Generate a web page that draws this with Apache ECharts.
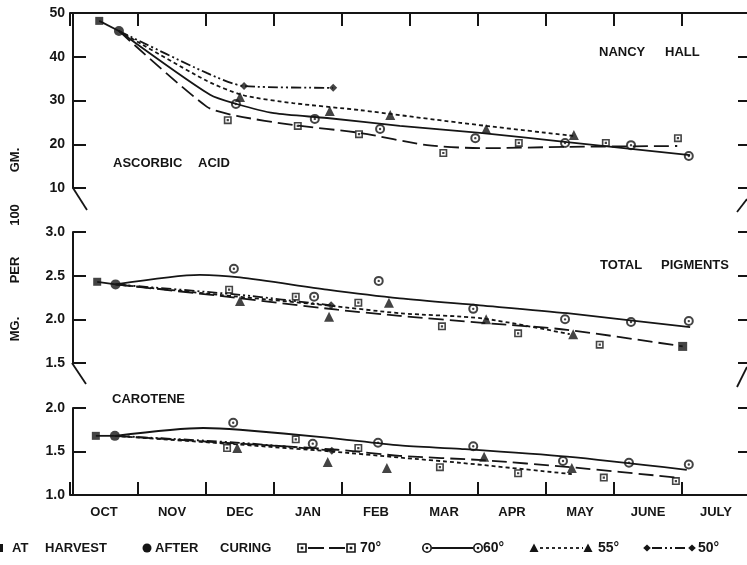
<!DOCTYPE html>
<html><head><meta charset="utf-8">
<script src="https://cdn.jsdelivr.net/npm/echarts@6/dist/echarts.min.js"></script>
<style>html,body{margin:0;padding:0;background:#fff}#c{width:747px;height:565px}</style>
</head><body><div id="c"></div>
<script>
// ---------- categories / ticks ----------
const months = ['OCT','NOV','DEC','JAN','FEB','MAR','APR','MAY','JUNE','JULY'];
const ascRange = [10, 50, 10];     // min, max, step
const pigRange = [1.5, 3.0, 0.5];
const carRange = [1.0, 2.0, 0.5];
// x = months after Oct 1

// ---------- Ascorbic acid ----------
const ascHarvest = [[0.43, 48.2]];
const ascCured   = [[0.72, 45.9]];
const asc70Pts   = [[2.32,25.5],[3.35,24.2],[4.25,22.3],[5.49,18.0],[6.60,20.3],[7.88,20.3],[8.94,21.4]];
const asc70Curve = [[0.72,45.9],[2.01,28.6],[2.45,26.5],[3.28,24.4],[4.26,22.6],[5.25,19.8],[6.07,19.1],[7.31,19.4],[8.93,19.6]];
const asc60Pts   = [[2.44,29.2],[3.60,25.8],[4.56,23.5],[5.96,21.4],[7.28,20.3],[8.25,19.8],[9.10,17.3]];
const asc60Curve = [[0.72,45.9],[2.06,31.3],[2.45,29.2],[3.00,27.1],[3.78,26.0],[4.85,24.2],[6.03,22.6],[7.31,20.5],[9.12,17.5]];
const asc55Pts   = [[2.50,30.8],[3.82,27.6],[4.71,26.7],[6.12,23.5],[7.41,22.1]];
const asc55Curve = [[0.72,45.9],[2.01,34.5],[2.55,31.2],[3.28,29.4],[4.26,27.8],[5.74,24.9],[7.40,21.9]];
const asc50Pts   = [[2.56,33.3],[3.87,32.9]];
const asc50Curve = [[0.72,45.9],[2.01,36.3],[2.56,33.3],[3.87,32.9]];

// ---------- Total pigments ----------
const pigHarvest = [[0.40, 2.43]];
const pigCured   = [[0.67, 2.40]];
const pig70Pts   = [[2.34,2.34],[3.32,2.26],[4.24,2.19],[5.47,1.92],[6.59,1.84],[7.79,1.71],[9.01,1.69]];
const pig70Curve = [[0.67,2.40],[2.30,2.26],[3.93,2.11],[4.85,2.04],[6.07,1.96],[7.31,1.88],[9.01,1.69]];
const pig60Pts   = [[2.41,2.58],[3.59,2.26],[4.54,2.44],[5.93,2.12],[7.28,2.00],[8.25,1.97],[9.10,1.98]];
const pig60Curve = [[0.67,2.40],[1.91,2.51],[2.50,2.48],[3.78,2.34],[4.85,2.24],[6.03,2.16],[7.31,2.07],[9.12,1.91]];
const pig55Pts   = [[2.50,2.21],[3.81,2.03],[4.69,2.19],[6.12,2.00],[7.40,1.83]];
const pig55Curve = [[0.67,2.40],[2.20,2.28],[3.78,2.16],[4.85,2.07],[6.07,2.01],[7.35,1.83]];
const pig50Pts   = [[3.84,2.16]];
const pig50Curve = [[0.67,2.40],[2.50,2.28],[3.84,2.16]];

// ---------- Carotene ----------
const carHarvest = [[0.38, 1.68]];
const carCured   = [[0.66, 1.68]];
const car70Pts   = [[2.31,1.54],[3.32,1.64],[4.24,1.54],[5.44,1.32],[6.59,1.25],[7.85,1.20],[8.91,1.16]];
const car70Curve = [[0.66,1.68],[2.30,1.60],[3.93,1.52],[4.85,1.45],[6.07,1.40],[7.35,1.32],[8.93,1.20]];
const car60Pts   = [[2.40,1.83],[3.57,1.59],[4.53,1.60],[5.93,1.56],[7.25,1.39],[8.22,1.37],[9.10,1.35]];
const car60Curve = [[0.66,1.68],[1.96,1.77],[2.50,1.75],[3.78,1.66],[4.85,1.57],[5.74,1.53],[7.31,1.44],[9.07,1.29]];
const car55Pts   = [[2.46,1.54],[3.79,1.38],[4.66,1.31],[6.09,1.44],[7.38,1.31]];
const car55Curve = [[0.66,1.68],[2.30,1.59],[3.85,1.50],[4.85,1.43],[5.74,1.37],[7.38,1.24]];
const car50Pts   = [[3.85,1.51]];
const car50Curve = [[0.66,1.68],[2.50,1.60],[3.85,1.51]];

// ---------- styles ----------
const INK = '#151515';
const FONT = '"Liberation Sans", Arial, sans-serif';
const SQ_DOT = 'path://M0,0H10V10H0Z M2,2V8H8V2Z M3.6,3.6H6.4V6.4H3.6Z';
const CIRC_DOT = 'path://M5,0A5,5,0,1,1,5,10A5,5,0,1,1,5,0Z M5,2A3,3,0,1,0,5,8A3,3,0,1,0,5,2Z M5,3.8A1.2,1.2,0,1,1,5,6.2A1.2,1.2,0,1,1,5,3.8Z';
const DASH = {d70:[15,6], d60:'solid', d55:[4,3], d50:[10,3,2,3,2,3]};

function curve(data, g, dash) {
  return {type:'line', xAxisIndex:g.x, yAxisIndex:g.y, data:data, smooth:0.25,
    symbol:'none', showSymbol:false, silent:true, z:2,
    lineStyle:{color:INK, width:1.8, type:dash}};
}
function pts(data, g, symbol, size) {
  return {type:'scatter', xAxisIndex:g.x, yAxisIndex:g.y, data:data, symbol:symbol, symbolSize:size,
    itemStyle:{color:INK}, z:4, silent:true};
}
function link(a, b, g) {
  return {type:'line', xAxisIndex:g.x, yAxisIndex:g.y, data:[a[0], b[0]], symbol:'none', silent:true, z:2,
    lineStyle:{color:INK, width:1.8}};
}
function panel(g, harvest, cured, c70, p70, c60, p60, c55, p55, c50, p50) {
  return [
    link(harvest, cured, g),
    curve(c70, g, DASH.d70), curve(c60, g, DASH.d60), curve(c55, g, DASH.d55), curve(c50, g, DASH.d50),
    pts(p70, g, SQ_DOT, 8), pts(p60, g, CIRC_DOT, 10), pts(p55, g, 'triangle', 10), pts(p50, g, 'diamond', 8),
    pts(harvest, g, 'rect', 8), pts(cured, g, 'circle', 10)
  ];
}

const G0 = {x:0, y:0}, G1 = {x:2, y:2}, G2 = {x:3, y:4};
const pig70Styled = pig70Pts.map((p, i) => i === pig70Pts.length - 1 ? {value:p, symbol:'rect', symbolSize:9} : p);

const series = [].concat(
  panel(G0, ascHarvest, ascCured, asc70Curve, asc70Pts, asc60Curve, asc60Pts, asc55Curve, asc55Pts, asc50Curve, asc50Pts),
  panel(G1, pigHarvest, pigCured, pig70Curve, pig70Styled, pig60Curve, pig60Pts, pig55Curve, pig55Pts, pig50Curve, pig50Pts),
  panel(G2, carHarvest, carCured, car70Curve, car70Pts, car60Curve, car60Pts, car55Curve, car55Pts, car50Curve, car50Pts)
);

const lineSt = {color:INK, width:2};
const valX = gi => ({gridIndex:gi, type:'value', min:0, max:10, show:false});
const catX = (gi, pos, labels) => ({gridIndex:gi, type:'category', position:pos, data:months, boundaryGap:true,
  axisLine:{show:true, onZero:false, lineStyle:lineSt},
  axisTick:{show:true, inside:true, length:13, interval:0, lineStyle:lineSt},
  axisLabel:{show:labels, interval:0, margin:11, color:INK, fontFamily:FONT, fontWeight:'bold', fontSize:13},
  splitLine:{show:false}});
const leftY = (gi, r, dec) => ({gridIndex:gi, type:'value', position:'left', offset:-3, min:r[0], max:r[1], interval:r[2],
  axisLine:{show:true, onZero:false, lineStyle:lineSt},
  axisTick:{show:true, inside:true, length:13, lineStyle:lineSt},
  axisLabel:{show:true, margin:8, color:INK, fontFamily:FONT, fontWeight:'bold', fontSize:14,
    formatter: v => v.toFixed(dec)},
  splitLine:{show:false}});
const rightY = (gi, r) => ({gridIndex:gi, type:'value', position:'right', min:r[0], max:r[1], interval:r[2],
  axisLine:{show:false, onZero:false}, axisTick:{show:true, inside:true, length:12, lineStyle:lineSt},
  axisLabel:{show:false}, splitLine:{show:false}});

// ---------- graphic: labels, breaks, legend ----------
function T(text, x, y, size, extra) {
  return Object.assign({type:'text', x:x, y:y, silent:true,
    style:{text:text, fill:INK, font:'bold ' + (size||13) + 'px ' + FONT, verticalAlign:'middle', align:'left'}}, extra||{});
}
function V(text, y) {
  return {type:'text', x:15, y:y, rotation:Math.PI/2, silent:true,
    style:{text:text, fill:INK, font:'bold 13px ' + FONT, align:'center', verticalAlign:'middle'}};
}
function L(x1, y1, x2, y2, dash) {
  return {type:'line', silent:true, shape:{x1:x1, y1:y1, x2:x2, y2:y2},
    style:{stroke:INK, lineWidth:1.8, lineDash:dash || null}};
}
const LY = 548;
const sqIcon = cx => [
  {type:'rect', silent:true, shape:{x:cx-4, y:LY-4, width:8, height:8}, style:{fill:'#fff', stroke:INK, lineWidth:1.6}},
  {type:'rect', silent:true, shape:{x:cx-1.3, y:LY-1.3, width:2.6, height:2.6}, style:{fill:INK}}];
const ciIcon = cx => [
  {type:'circle', silent:true, shape:{cx:cx, cy:LY, r:4.2}, style:{fill:'#fff', stroke:INK, lineWidth:1.6}},
  {type:'circle', silent:true, shape:{cx:cx, cy:LY, r:1.3}, style:{fill:INK}}];
const trIcon = cx => [{type:'polygon', silent:true, shape:{points:[[cx-4.5,LY+4],[cx+4.5,LY+4],[cx,LY-4.5]]}, style:{fill:INK}}];
const diIcon = cx => [{type:'polygon', silent:true, shape:{points:[[cx-3.8,LY],[cx,LY-3.5],[cx+3.8,LY],[cx,LY+3.5]]}, style:{fill:INK}}];

const graphic = [].concat(
  [
    T('NANCY', 599, 52), T('HALL', 665, 52),
    T('ASCORBIC', 113, 163), T('ACID', 198, 163),
    T('TOTAL', 600, 265), T('PIGMENTS', 661, 265),
    T('CAROTENE', 112, 399),
    V('GM.', 160), V('100', 215), V('PER', 270), V('MG.', 329),
    // axis breaks
    L(73, 188, 87, 210), L(72, 363, 86, 384), L(737, 212, 747, 199), L(737, 387, 747, 367),
    // legend
    {type:'rect', silent:true, shape:{x:-5, y:LY-4, width:8, height:8}, style:{fill:INK}},
    T('AT', 12, LY), T('HARVEST', 45, LY),
    {type:'circle', silent:true, shape:{cx:147, cy:LY, r:4.5}, style:{fill:INK}},
    T('AFTER', 155, LY), T('CURING', 220, LY),
    L(308, LY, 346, LY, [16, 5]), T('70°', 360, LY, 14),
    L(432, LY, 473, LY), T('60°', 483, LY, 14),
    L(540, LY, 583, LY, [3, 3]), T('55°', 598, LY, 14),
    L(652, LY, 688, LY, [10, 3, 2, 3, 2, 3]), T('50°', 698, LY, 14)
  ],
  sqIcon(302), sqIcon(351), ciIcon(427), ciIcon(478), trIcon(534), trIcon(588), diIcon(647), diIcon(692)
);

const option = {
  animation:false,
  backgroundColor:'#fff',
  grid:[
    {left:70, top:13, width:680, height:175, containLabel:false, outerBoundsMode:'none'},
    {left:70, top:232, width:680, height:131, containLabel:false, outerBoundsMode:'none'},
    {left:70, top:408, width:680, height:87, containLabel:false, outerBoundsMode:'none'}
  ],
  xAxis:[ valX(0), catX(0, 'top', false), valX(1), valX(2), catX(2, 'bottom', true) ],
  yAxis:[ leftY(0, ascRange, 0), rightY(0, ascRange), leftY(1, pigRange, 1), rightY(1, pigRange),
          leftY(2, carRange, 1), rightY(2, carRange) ],
  series:series,
  graphic:graphic
};
const chart = echarts.init(document.getElementById('c'), null, {renderer:'canvas'});
chart.setOption(option);
</script></body></html>
